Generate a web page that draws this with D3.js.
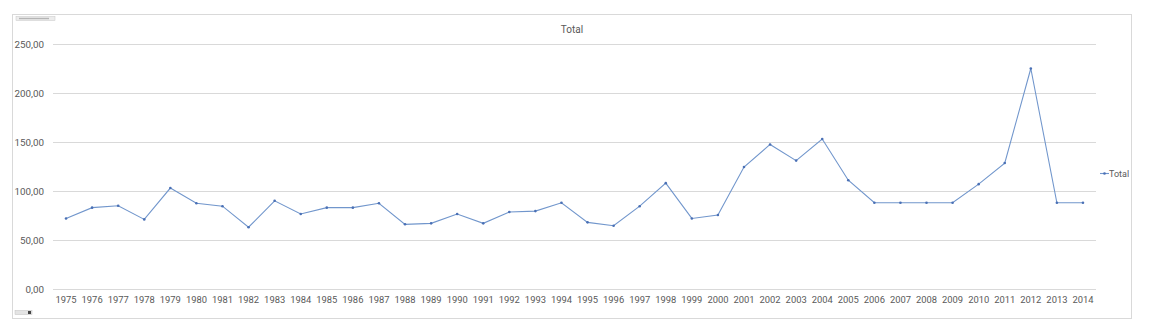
<!DOCTYPE html>
<html>
<head>
<meta charset="utf-8">
<script src="https://cdn.jsdelivr.net/npm/d3@7/dist/d3.min.js"></script>
<style>
  html, body { margin: 0; padding: 0; background: #ffffff; }
  svg { display: block; }
  text { font-family: Roboto, "Liberation Sans", Arial, sans-serif; }
</style>
</head>
<body>
<svg id="chart" width="1150" height="331"></svg>
<script>
// Yearly totals, 1975–2014
const years = [
  "1975","1976","1977","1978","1979","1980","1981","1982","1983","1984",
  "1985","1986","1987","1988","1989","1990","1991","1992","1993","1994",
  "1995","1996","1997","1998","1999","2000","2001","2002","2003","2004",
  "2005","2006","2007","2008","2009","2010","2011","2012","2013","2014"
];
const totals = [
  72, 83, 85, 71, 103, 87.5, 84.5, 63, 90, 76.5,
  83, 83, 87.5, 66, 67, 76.5, 67, 78.5, 79.5, 88,
  68, 64.5, 84.5, 108, 72, 75.5, 124.5, 147.5, 131, 153,
  111, 88, 88, 88, 88, 107, 128.5, 225, 88, 88
];
const yTicks = [0, 50, 100, 150, 200, 250];
const seriesName = "Total";

const svg = d3.select("#chart");
const fmt = v => d3.format(".2f")(v).replace(".", ",");

// chart frame
svg.append("rect")
  .attr("x", 12.5).attr("y", 14.5)
  .attr("width", 1119).attr("height", 304)
  .attr("fill", "#ffffff")
  .attr("stroke", "#d9d9d9").attr("stroke-width", 1);

// small field buttons
svg.append("rect").attr("x", 16).attr("y", 16.5).attr("width", 39).attr("height", 4)
  .attr("fill", "#ececec").attr("stroke", "#c8c8c8").attr("stroke-width", 0.5);
svg.append("rect").attr("x", 19).attr("y", 17.8).attr("width", 30).attr("height", 1.4)
  .attr("fill", "#b5b5b5");
svg.append("rect").attr("x", 15).attr("y", 310.5).attr("width", 17).attr("height", 4)
  .attr("fill", "#e4e4e4").attr("stroke", "#c0c0c0").attr("stroke-width", 0.5);
svg.append("rect").attr("x", 28).attr("y", 311).attr("width", 3).attr("height", 3)
  .attr("fill", "#444444");

const x = d3.scaleBand().domain(years).range([53, 1096]);
const y = d3.scaleLinear().domain([0, 250]).range([289, 44]);

// horizontal gridlines
svg.append("g")
  .selectAll("line")
  .data(yTicks)
  .join("line")
  .attr("x1", 53).attr("x2", 1096)
  .attr("y1", d => Math.round(y(d)) + 0.5)
  .attr("y2", d => Math.round(y(d)) + 0.5)
  .attr("stroke", "#d9d9d9").attr("stroke-width", 1);

// y axis labels
const yAxis = d3.axisLeft(y).tickValues(yTicks).tickFormat(fmt).tickSize(0).tickPadding(0);
svg.append("g")
  .attr("transform", "translate(44,0)")
  .call(yAxis)
  .call(g => g.select(".domain").remove())
  .call(g => g.selectAll("text")
    .attr("fill", "#595959").style("font-size", "9.8px"));

// x axis labels
const xAxis = d3.axisBottom(x).tickSize(0).tickPadding(0);
svg.append("g")
  .attr("transform", "translate(0,296)")
  .call(xAxis)
  .call(g => g.select(".domain").remove())
  .call(g => g.selectAll("text")
    .attr("fill", "#595959").style("font-size", "9.4px"));

// title
svg.append("text")
  .attr("x", 572).attr("y", 33)
  .attr("text-anchor", "middle")
  .attr("fill", "#595959")
  .style("font-size", "10px")
  .text(seriesName);

const lineColor = "#7196cc";
const cx = d => x(d) + x.bandwidth() / 2;

// series line
const line = d3.line()
  .x((d, i) => cx(years[i]))
  .y(d => y(d));
svg.append("path")
  .datum(totals)
  .attr("d", line)
  .attr("fill", "none")
  .attr("stroke", lineColor)
  .attr("stroke-width", 1.1);

// point markers
svg.append("g")
  .selectAll("circle")
  .data(totals)
  .join("circle")
  .attr("cx", (d, i) => cx(years[i]))
  .attr("cy", d => y(d))
  .attr("r", 1.3)
  .attr("fill", "#4a70b5");

// legend
svg.append("line")
  .attr("x1", 1100).attr("x2", 1109)
  .attr("y1", 173.5).attr("y2", 173.5)
  .attr("stroke", lineColor).attr("stroke-width", 1.1);
svg.append("circle").attr("cx", 1104.5).attr("cy", 173.5).attr("r", 1.3).attr("fill", "#4a70b5");
svg.append("text")
  .attr("x", 1109).attr("y", 176.5)
  .attr("fill", "#595959")
  .style("font-size", "9px")
  .text(seriesName);
</script>
</body>
</html>
